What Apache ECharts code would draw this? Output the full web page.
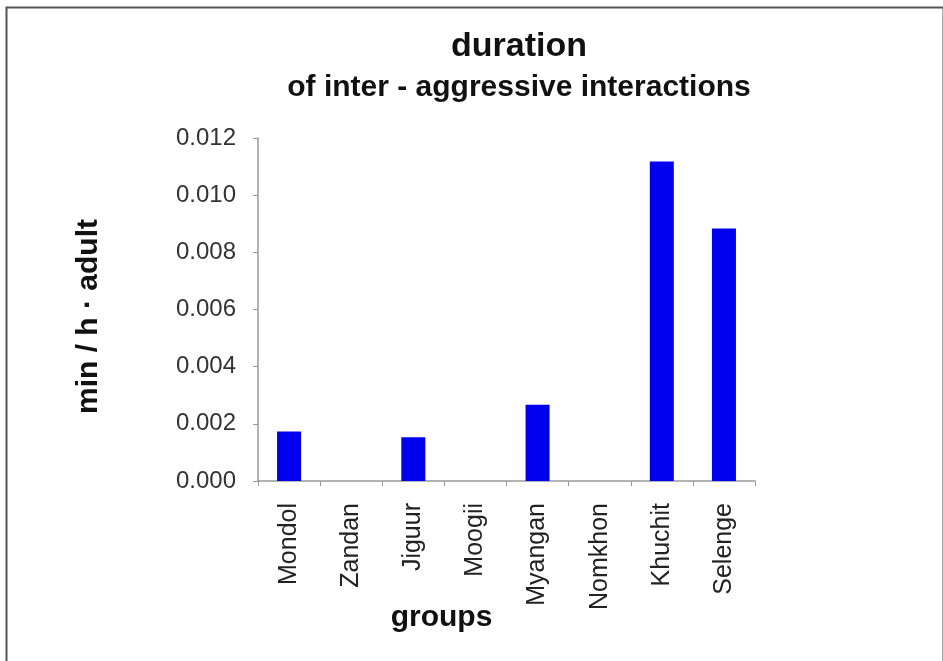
<!DOCTYPE html>
<html>
<head>
<meta charset="utf-8">
<script src="https://cdn.jsdelivr.net/npm/echarts@6/dist/echarts.min.js"></script>
<style>
html,body{margin:0;padding:0;background:#fff;}
#c{width:943px;height:661px;}
</style>
</head>
<body>
<div id="c"></div>
<script>
var categories = ['Mondol','Zandan','Jiguur','Moogii','Myangan','Nomkhon','Khuchit','Selenge'];
var values = [0.00173, 0, 0.00153, 0, 0.00267, 0, 0.01118, 0.00883];
var yTicks = [0, 0.002, 0.004, 0.006, 0.008, 0.010, 0.012];

var chart = echarts.init(document.getElementById('c'), null, {renderer:'canvas'});
var F = 'Liberation Sans, Arial, sans-serif';
chart.setOption({
  animation: false,
  backgroundColor: '#fff',
  graphic: [{
    type: 'rect', left: 4, top: 5, shape: {width: 937, height: 700},
    style: {fill: 'none', stroke: '#555', lineWidth: 2}, silent: true
  }],
  title: {
    text: 'duration',
    subtext: 'of inter - aggressive interactions',
    left: 514, textAlign: 'center', top: 25, itemGap: 9,
    textStyle: {fontFamily: F, fontSize: 34, fontWeight: 'bold', color: '#111'},
    subtextStyle: {fontFamily: F, fontSize: 30, fontWeight: 'bold', color: '#111'}
  },
  grid: {left: 258, right: 188, top: 138, bottom: 180},
  xAxis: {
    type: 'category', data: categories,
    name: 'groups', nameLocation: 'middle', nameGap: 122, nameMoveOverlap: false,
    nameTextStyle: {fontFamily: F, fontSize: 30, fontWeight: 'bold', color: '#111', padding: [0, 130, 0, 0]},
    axisLine: {lineStyle: {color: '#999', width: 1.5}},
    axisTick: {show: true, alignWithLabel: false, length: 5, lineStyle: {color: '#999'}},
    axisLabel: {rotate: 90, margin: 22, fontFamily: F, fontSize: 25, color: '#222', interval: 0}
  },
  yAxis: {
    type: 'value', min: 0, max: 0.012, interval: 0.002,
    name: 'min / h · adult', nameLocation: 'middle', nameGap: 154, nameMoveOverlap: false,
    nameTextStyle: {fontFamily: F, fontSize: 30, fontWeight: 'bold', color: '#111', padding: [0, 14, 0, 0]},
    axisLine: {show: true, lineStyle: {color: '#999', width: 1.5}},
    axisTick: {show: true, length: 5, lineStyle: {color: '#999'}},
    splitLine: {show: false},
    axisLabel: {margin: 22, fontFamily: F, fontSize: 24, color: '#333',
      formatter: function(v){ return v.toFixed(3); }}
  },
  series: [{
    type: 'bar', data: values, barWidth: 24,
    itemStyle: {color: '#0000ee'}
  }]
});
</script>
</body>
</html>
